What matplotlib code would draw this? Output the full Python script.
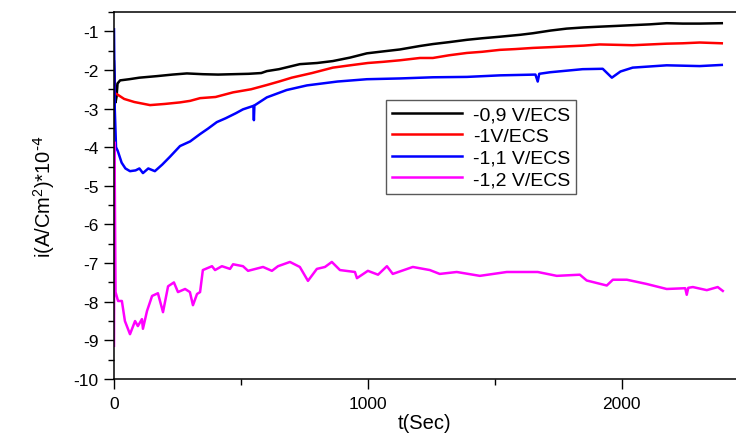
import matplotlib
matplotlib.use("Agg")
import matplotlib.pyplot as plt
from matplotlib.ticker import MultipleLocator

plt.rcParams['font.family'] = ['Liberation Sans', 'DejaVu Sans']
plt.rcParams['axes.unicode_minus'] = False
plt.rcParams['mathtext.default'] = 'regular'

# values (t in s, i in A/cm2 * 1e-4)
t_09 = [0, 3, 6, 10, 14, 24, 60, 100, 169, 230, 287, 350, 410, 469, 530, 580, 602,
        650, 732, 800, 862, 930, 996, 1060, 1126, 1205, 1256, 1320, 1390, 1450, 1520,
        1600, 1650, 1720, 1783, 1850, 1913, 1980, 2043, 2110, 2177, 2240, 2307, 2394]
i_09 = [-1.78, -2.3, -2.84, -2.7, -2.35, -2.27, -2.24, -2.2, -2.16, -2.12, -2.09,
        -2.11, -2.12, -2.11, -2.1, -2.08, -2.03, -1.98, -1.85, -1.82, -1.77, -1.68,
        -1.57, -1.52, -1.47, -1.38, -1.33, -1.28, -1.22, -1.18, -1.14, -1.09, -1.05,
        -0.98, -0.93, -0.9, -0.88, -0.86, -0.84, -0.82, -0.79, -0.8, -0.8, -0.79]

t_10 = [0, 3, 12, 40, 80, 142, 200, 260, 300, 339, 400, 469, 540, 602, 650, 700,
        780, 862, 930, 1000, 1060, 1126, 1205, 1256, 1320, 1390, 1450, 1520, 1580,
        1650, 1720, 1783, 1850, 1913, 1980, 2043, 2110, 2177, 2240, 2307, 2394]
i_10 = [-2.2, -2.6, -2.63, -2.75, -2.83, -2.91, -2.88, -2.84, -2.8, -2.73, -2.7,
        -2.58, -2.5, -2.39, -2.3, -2.2, -2.08, -1.94, -1.88, -1.82, -1.79, -1.75,
        -1.69, -1.69, -1.62, -1.56, -1.53, -1.48, -1.46, -1.43, -1.41, -1.39, -1.37,
        -1.34, -1.35, -1.36, -1.34, -1.32, -1.31, -1.29, -1.31]

t_11 = [0, 3, 8, 15, 30, 45, 63, 85, 100, 114, 135, 161, 190, 220, 260, 300, 339,
        370, 405, 440, 480, 508, 540, 549, 551, 553, 602, 680, 760, 880, 996, 1126,
        1256, 1390, 1520, 1660, 1669, 1675, 1717, 1846, 1925, 1961, 1995, 2043, 2177,
        2307, 2394]
i_11 = [-0.95, -3.0, -4.0, -4.1, -4.4, -4.55, -4.62, -4.6, -4.55, -4.67, -4.55,
        -4.62, -4.45, -4.25, -3.97, -3.85, -3.66, -3.52, -3.35, -3.25, -3.12, -3.02,
        -2.95, -2.93, -3.3, -2.92, -2.71, -2.52, -2.4, -2.3, -2.24, -2.22, -2.19,
        -2.18, -2.14, -2.12, -2.3, -2.1, -2.06, -1.98, -1.97, -2.2, -2.04, -1.94,
        -1.88, -1.9, -1.87]

t_12 = [0, 2, 6, 16, 31, 43, 63, 83, 94, 110, 114, 130, 150, 173, 193, 213, 236,
        252, 280, 299, 311, 327, 339, 350, 386, 398, 425, 457, 469, 508, 528, 587,
        622, 646, 693, 732, 764, 799, 831, 858, 890, 949, 957, 1000, 1040, 1075, 1098,
        1177, 1244, 1283, 1350, 1441, 1547, 1669, 1744, 1835, 1862, 1941, 1965, 2020,
        2098, 2177, 2250, 2256, 2262, 2280, 2335, 2378, 2398]
i_12 = [-9.14, -3.87, -7.75, -7.98, -7.98, -8.5, -8.84, -8.5, -8.63, -8.45, -8.7,
        -8.24, -7.85, -7.78, -8.27, -7.6, -7.5, -7.75, -7.67, -7.75, -8.09, -7.8,
        -7.75, -7.18, -7.08, -7.18, -7.08, -7.15, -7.03, -7.08, -7.2, -7.1, -7.2,
        -7.08, -6.97, -7.1, -7.46, -7.15, -7.1, -6.97, -7.18, -7.23, -7.39, -7.2,
        -7.3, -7.08, -7.28, -7.1, -7.18, -7.28, -7.23, -7.33, -7.23, -7.23, -7.33,
        -7.3, -7.45, -7.58, -7.43, -7.43, -7.54, -7.67, -7.65, -7.82, -7.64, -7.62,
        -7.7, -7.62, -7.72]

labels = ['-0,9 V/ECS', '-1V/ECS', '-1,1 V/ECS', '-1,2 V/ECS']
colors = ['black', '#ff0000', '#0000ff', '#ff00ff']

fig = plt.figure(figsize=(7.36, 4.39), dpi=100)
ax = fig.add_axes([114 / 736, 1 - 380 / 439, 1 - 114 / 736, (380 - 13) / 439])

series = [(t_09, i_09), (t_10, i_10), (t_11, i_11), (t_12, i_12)]
for (t, i), lab, c in zip(series, labels, colors):
    ax.plot(t, i, color=c, lw=1.8, label=lab)

ax.set_xlim(0, 2450)
ax.set_ylim(-10, -0.5)
ax.xaxis.set_major_locator(MultipleLocator(1000))
ax.xaxis.set_minor_locator(MultipleLocator(500))
ax.yaxis.set_major_locator(MultipleLocator(1))
ax.yaxis.set_minor_locator(MultipleLocator(0.5))
ax.tick_params(which='major', direction='out', length=7, width=1, labelsize=12.5)
ax.tick_params(which='minor', direction='out', length=4, width=1)
ax.tick_params(axis='y', pad=4)
ax.tick_params(axis='x', pad=5)
ax.spines['right'].set_visible(False)
for s in ['left', 'bottom', 'top']:
    ax.spines[s].set_linewidth(1.1)

ax.set_xlabel('t(Sec)', fontsize=14.5, labelpad=2)
ax.set_ylabel(r'i(A/Cm$^2$)*10$^{\text{-4}}$', fontsize=14.5, labelpad=12)

leg = ax.legend(loc='upper left', bbox_to_anchor=(0.437, 0.76), fontsize=14,
                fancybox=False, framealpha=1, edgecolor='0.35', handlelength=3.6,
                labelspacing=0.2, borderpad=0.3, handletextpad=0.6, borderaxespad=0)
leg.get_frame().set_linewidth(1.0)

plt.savefig('out.png', dpi=100)
